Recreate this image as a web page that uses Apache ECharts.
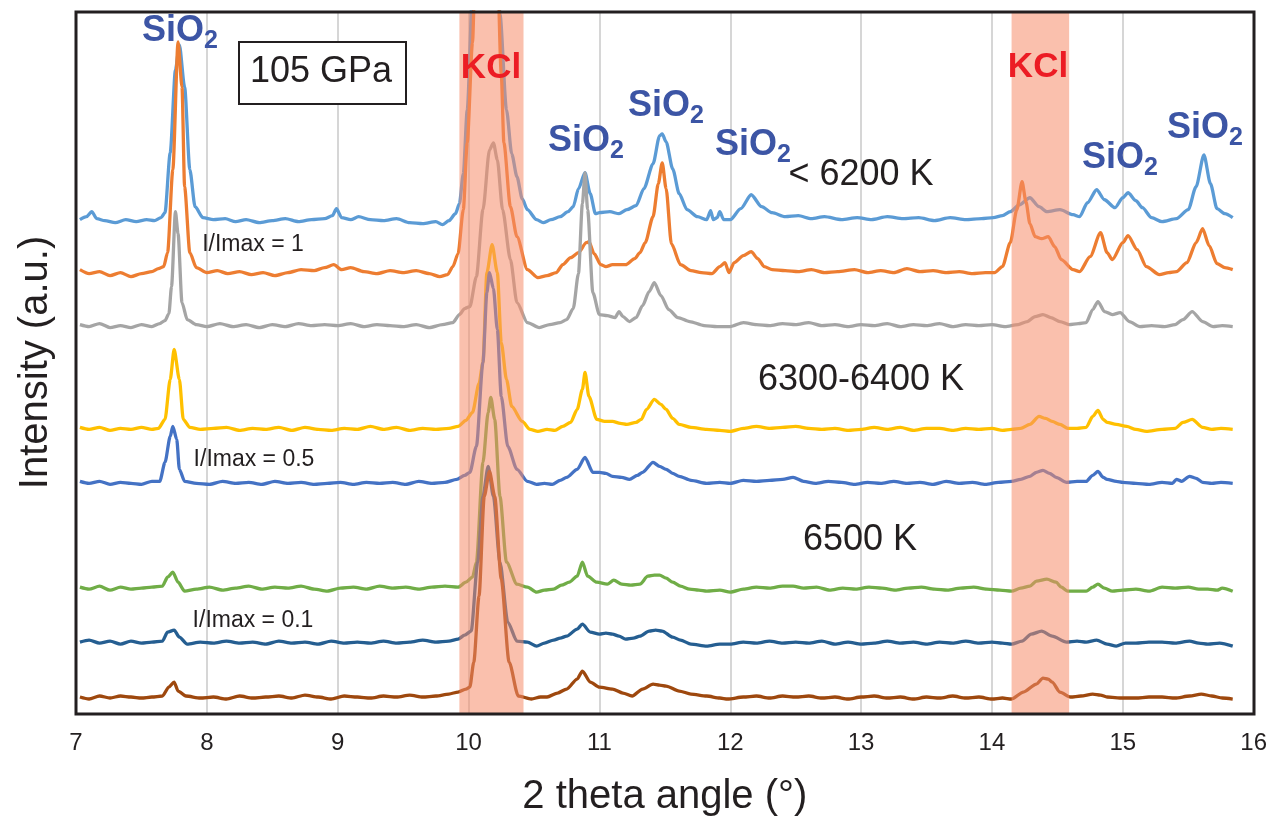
<!DOCTYPE html>
<html>
<head>
<meta charset="utf-8">
<title>105 GPa XRD</title>
<script src="https://cdn.jsdelivr.net/npm/echarts@6/dist/echarts.min.js"></script>
<style>
  html, body { margin: 0; padding: 0; background: #fff; }
  #chart { width: 1270px; height: 822px; }
</style>
</head>
<body>
<div id="chart"></div>
<script>
// 2 theta (deg), intensity with stacking offset (a.u.)
const lightBlue = [[7.03,494],[7.08,497],[7.12,502],[7.16,495],[7.22,493],[7.3,491],[7.38,494],[7.46,492],[7.54,494],[7.6,493],[7.65,496],[7.68,501],[7.72,561],[7.76,644],[7.79,669],[7.83,627],[7.87,544],[7.91,507],[7.97,496],[8.05,494],[8.14,495],[8.22,492],[8.3,494],[8.4,491],[8.5,493],[8.6,495],[8.7,492],[8.8,494],[8.9,495],[8.96,498],[8.99,505],[9.03,496],[9.1,494],[9.16,497],[9.25,494],[9.35,493],[9.45,495],[9.55,491],[9.65,490],[9.75,492],[9.8,489],[9.85,493],[9.9,500],[9.93,510],[9.96,540],[9.99,604],[10.03,720],[10.08,900],[10.15,1050],[10.2,850],[10.24,700],[10.29,604],[10.33,560],[10.37,537],[10.41,515],[10.45,504],[10.52,494],[10.57,491],[10.63,494],[10.7,497],[10.76,502],[10.8,507],[10.84,525],[10.89,541],[10.93,520],[10.97,500],[11.0,501],[11.08,502],[11.15,500],[11.21,504],[11.28,508],[11.34,525],[11.41,550],[11.46,578],[11.48,580],[11.51,572],[11.56,545],[11.61,520],[11.67,504],[11.75,497],[11.82,494],[11.85,503],[11.87,494],[11.9,496],[11.92,502],[11.95,494],[12.0,494],[12.08,505],[12.16,519],[12.24,507],[12.32,501],[12.42,497],[12.52,498],[12.62,495],[12.72,497],[12.85,494],[12.97,496],[13.08,494],[13.2,497],[13.32,495],[13.44,496],[13.56,493],[13.68,496],[13.8,494],[13.92,495],[14.01,496],[14.08,498],[14.14,502],[14.21,509],[14.29,516],[14.36,507],[14.42,502],[14.52,504],[14.62,499],[14.67,497],[14.73,511],[14.8,524],[14.86,514],[14.94,506],[15.0,516],[15.04,521],[15.1,513],[15.15,506],[15.22,496],[15.3,492],[15.41,495],[15.5,504],[15.56,527],[15.62,559],[15.67,530],[15.72,505],[15.78,500],[15.84,496]];

const orange = [[7.03,444],[7.1,440],[7.18,442],[7.26,438],[7.34,441],[7.42,437],[7.5,440],[7.58,442],[7.63,445],[7.67,447],[7.7,461],[7.74,544],[7.78,672],[7.81,627],[7.83,527],[7.87,461],[7.92,446],[8.0,441],[8.08,443],[8.16,440],[8.25,442],[8.34,439],[8.43,441],[8.52,438],[8.62,441],[8.72,444],[8.82,443],[8.9,446],[8.97,449],[9.03,444],[9.1,446],[9.2,442],[9.3,440],[9.4,443],[9.5,441],[9.6,443],[9.7,440],[9.78,437],[9.84,439],[9.88,447],[9.92,460],[9.96,504],[9.99,571],[10.03,671],[10.06,800],[10.14,1150],[10.21,800],[10.25,640],[10.27,571],[10.32,507],[10.37,477],[10.45,444],[10.53,436],[10.6,438],[10.67,441],[10.72,449],[10.78,456],[10.84,461],[10.9,471],[10.92,472],[10.96,460],[11.01,449],[11.05,447],[11.1,449],[11.2,449],[11.27,455],[11.31,461],[11.35,471],[11.41,497],[11.45,530],[11.48,551],[11.51,525],[11.55,470],[11.62,449],[11.7,443],[11.78,441],[11.86,440],[11.92,447],[11.96,451],[11.99,441],[12.03,451],[12.1,458],[12.16,462],[12.21,455],[12.26,447],[12.32,444],[12.42,443],[12.52,442],[12.62,444],[12.72,441],[12.82,442],[12.95,444],[13.05,441],[13.15,443],[13.25,441],[13.35,445],[13.45,442],[13.55,443],[13.65,441],[13.75,442],[13.85,440],[13.95,441],[14.02,441],[14.08,447],[14.14,471],[14.19,504],[14.23,532],[14.26,512],[14.29,490],[14.33,477],[14.38,475],[14.43,477],[14.48,467],[14.53,454],[14.62,444],[14.67,442],[14.75,457],[14.83,481],[14.88,461],[14.92,454],[15.0,471],[15.04,478],[15.11,464],[15.18,447],[15.28,439],[15.35,441],[15.41,442],[15.49,451],[15.56,471],[15.61,485],[15.66,468],[15.72,450],[15.78,446],[15.84,444]];

const gray = [[7.03,389],[7.1,387],[7.18,390],[7.26,386],[7.34,388],[7.42,386],[7.5,389],[7.58,387],[7.64,390],[7.68,393],[7.71,400],[7.73,427],[7.76,502],[7.78,480],[7.81,411],[7.85,394],[7.92,389],[8.0,387],[8.1,390],[8.2,387],[8.3,389],[8.4,386],[8.5,389],[8.6,387],[8.7,390],[8.8,388],[8.9,389],[9.0,388],[9.1,390],[9.2,387],[9.3,389],[9.4,388],[9.5,387],[9.6,389],[9.7,386],[9.8,389],[9.88,391],[9.93,399],[9.97,405],[10.01,407],[10.06,437],[10.11,504],[10.16,564],[10.19,571],[10.22,554],[10.26,504],[10.32,454],[10.37,411],[10.45,391],[10.54,386],[10.62,389],[10.7,391],[10.75,394],[10.8,405],[10.84,440],[10.87,510],[10.89,541],[10.91,504],[10.95,421],[11.0,399],[11.06,398],[11.12,396],[11.15,402],[11.18,397],[11.23,392],[11.28,396],[11.33,408],[11.38,422],[11.42,431],[11.47,418],[11.53,404],[11.6,396],[11.69,392],[11.8,388],[11.9,387],[12.0,387],[12.1,391],[12.2,389],[12.3,388],[12.4,390],[12.5,389],[12.6,391],[12.7,388],[12.8,389],[12.9,387],[13.0,389],[13.1,388],[13.2,390],[13.3,387],[13.4,389],[13.5,388],[13.6,390],[13.7,387],[13.8,389],[13.9,388],[14.0,389],[14.1,387],[14.2,389],[14.27,392],[14.33,397],[14.39,399],[14.45,396],[14.52,392],[14.59,389],[14.66,390],[14.72,391],[14.77,404],[14.81,412],[14.86,402],[14.92,399],[14.98,401],[15.05,392],[15.13,387],[15.22,388],[15.32,387],[15.4,389],[15.46,394],[15.53,402],[15.61,392],[15.69,387],[15.76,388],[15.84,387]];

const yellow = [[7.03,286],[7.1,284],[7.18,286],[7.26,283],[7.34,285],[7.42,284],[7.5,286],[7.58,284],[7.63,285],[7.68,294],[7.72,334],[7.75,364],[7.79,334],[7.82,294],[7.87,286],[7.95,284],[8.05,285],[8.15,286],[8.25,283],[8.35,285],[8.45,284],[8.55,286],[8.65,283],[8.75,286],[8.85,284],[8.95,283],[9.05,285],[9.15,284],[9.25,287],[9.35,284],[9.45,286],[9.55,283],[9.65,285],[9.75,284],[9.85,285],[9.92,287],[9.98,293],[10.03,301],[10.08,330],[10.11,351],[10.14,441],[10.18,469],[10.22,441],[10.25,371],[10.29,334],[10.33,307],[10.41,292],[10.47,284],[10.53,282],[10.6,284],[10.66,283],[10.72,287],[10.78,291],[10.83,304],[10.87,324],[10.89,341],[10.92,317],[10.98,294],[11.04,292],[11.1,292],[11.16,290],[11.21,289],[11.28,291],[11.32,294],[11.36,304],[11.42,314],[11.47,309],[11.51,304],[11.56,295],[11.61,289],[11.7,286],[11.82,284],[11.92,283],[12.0,282],[12.1,285],[12.2,287],[12.3,285],[12.4,286],[12.5,287],[12.6,285],[12.7,284],[12.8,285],[12.9,283],[13.0,284],[13.1,286],[13.2,284],[13.3,286],[13.4,283],[13.5,285],[13.6,285],[13.7,283],[13.8,285],[13.9,284],[14.0,285],[14.08,283],[14.15,284],[14.22,285],[14.29,289],[14.36,297],[14.41,295],[14.46,292],[14.52,289],[14.58,285],[14.65,285],[14.72,286],[14.77,297],[14.81,303],[14.85,294],[14.88,291],[14.95,289],[15.03,287],[15.1,284],[15.18,282],[15.3,284],[15.4,285],[15.46,291],[15.53,294],[15.61,286],[15.68,284],[15.75,285],[15.84,284]];

const blue = [[7.03,232],[7.1,230],[7.18,232],[7.26,229],[7.34,231],[7.42,230],[7.5,229],[7.58,232],[7.64,232],[7.68,251],[7.72,277],[7.74,287],[7.77,274],[7.79,244],[7.83,232],[7.92,230],[8.02,229],[8.12,232],[8.22,230],[8.32,231],[8.42,229],[8.52,232],[8.62,230],[8.72,231],[8.82,229],[8.92,230],[9.02,231],[9.12,229],[9.22,231],[9.32,230],[9.42,231],[9.52,229],[9.62,232],[9.72,230],[9.82,231],[9.91,234],[9.97,238],[10.01,241],[10.06,267],[10.11,351],[10.14,421],[10.16,441],[10.19,425],[10.22,384],[10.25,317],[10.3,267],[10.37,244],[10.45,232],[10.52,229],[10.58,230],[10.64,229],[10.7,233],[10.75,236],[10.83,244],[10.89,256],[10.95,241],[11.0,241],[11.05,240],[11.1,237],[11.17,236],[11.23,234],[11.29,238],[11.33,241],[11.41,251],[11.46,247],[11.51,244],[11.56,240],[11.61,237],[11.7,233],[11.82,230],[11.92,231],[12.0,230],[12.1,233],[12.2,232],[12.3,233],[12.4,234],[12.48,236],[12.56,232],[12.65,230],[12.75,232],[12.85,231],[12.95,229],[13.05,231],[13.15,230],[13.25,232],[13.35,230],[13.45,231],[13.55,229],[13.65,232],[13.75,230],[13.85,231],[13.95,229],[14.05,231],[14.15,232],[14.22,234],[14.29,237],[14.34,241],[14.39,243],[14.44,240],[14.49,236],[14.57,231],[14.65,232],[14.72,232],[14.77,238],[14.81,242],[14.85,236],[14.88,234],[14.95,232],[15.0,231],[15.1,230],[15.2,229],[15.3,231],[15.38,230],[15.41,234],[15.45,232],[15.51,237],[15.56,235],[15.61,231],[15.68,230],[15.75,231],[15.84,230]];

const green = [[7.03,126],[7.1,124],[7.18,127],[7.26,123],[7.34,126],[7.42,124],[7.5,125],[7.58,126],[7.66,127],[7.7,136],[7.74,141],[7.78,131],[7.83,122],[7.92,124],[8.02,126],[8.12,123],[8.22,125],[8.32,127],[8.42,124],[8.52,126],[8.62,125],[8.72,127],[8.82,124],[8.92,122],[9.02,125],[9.12,126],[9.22,124],[9.32,127],[9.42,125],[9.52,126],[9.62,124],[9.72,126],[9.82,127],[9.92,126],[9.98,131],[10.03,136],[10.06,151],[10.11,251],[10.15,301],[10.17,316],[10.2,294],[10.24,217],[10.29,151],[10.37,129],[10.45,126],[10.52,121],[10.58,123],[10.65,124],[10.71,128],[10.77,131],[10.83,137],[10.87,151],[10.91,137],[10.98,131],[11.06,129],[11.11,133],[11.17,129],[11.24,128],[11.31,129],[11.37,137],[11.42,138],[11.46,138],[11.51,135],[11.56,131],[11.62,127],[11.69,124],[11.76,123],[11.82,122],[11.92,123],[12.0,121],[12.1,124],[12.2,126],[12.3,125],[12.4,127],[12.48,127],[12.56,125],[12.66,126],[12.76,123],[12.86,125],[12.96,124],[13.06,126],[13.16,125],[13.26,123],[13.36,125],[13.46,126],[13.56,124],[13.66,123],[13.76,125],[13.86,126],[13.96,124],[14.06,123],[14.15,122],[14.22,125],[14.29,127],[14.34,132],[14.42,134],[14.49,131],[14.53,126],[14.58,122],[14.65,122],[14.72,122],[14.77,126],[14.81,129],[14.86,125],[14.92,122],[15.0,123],[15.1,124],[15.2,122],[15.3,126],[15.4,125],[15.5,126],[15.58,124],[15.65,124],[15.72,123],[15.76,125],[15.84,122]];

const darkBlue = [[7.03,71],[7.1,73],[7.18,70],[7.26,72],[7.34,69],[7.42,72],[7.5,70],[7.58,71],[7.66,72],[7.7,81],[7.75,83],[7.79,76],[7.85,69],[7.95,71],[8.05,70],[8.15,72],[8.25,70],[8.35,71],[8.45,69],[8.55,72],[8.65,70],[8.75,71],[8.85,69],[8.95,72],[9.05,70],[9.15,71],[9.25,70],[9.35,72],[9.45,70],[9.55,71],[9.65,73],[9.75,71],[9.85,72],[9.92,74],[9.97,78],[10.02,82],[10.07,151],[10.11,217],[10.15,247],[10.19,217],[10.24,151],[10.3,91],[10.37,72],[10.45,71],[10.52,67],[10.58,70],[10.65,73],[10.7,75],[10.75,77],[10.83,84],[10.87,89],[10.93,81],[11.0,79],[11.05,80],[11.1,79],[11.15,77],[11.2,74],[11.26,75],[11.31,77],[11.38,82],[11.43,83],[11.48,82],[11.56,76],[11.62,73],[11.7,69],[11.82,67],[11.92,69],[12.0,69],[12.1,71],[12.2,70],[12.3,72],[12.4,70],[12.5,71],[12.6,70],[12.7,72],[12.8,69],[12.9,71],[13.0,69],[13.1,70],[13.2,72],[13.3,70],[13.4,71],[13.5,69],[13.6,71],[13.7,70],[13.8,72],[13.9,70],[14.0,71],[14.08,70],[14.15,69],[14.23,72],[14.3,79],[14.38,82],[14.46,77],[14.57,71],[14.65,72],[14.72,71],[14.8,73],[14.88,69],[14.95,67],[15.02,70],[15.1,70],[15.2,71],[15.3,71],[15.4,70],[15.51,72],[15.58,70],[15.65,69],[15.74,70],[15.84,67]];

const brown = [[7.03,16],[7.1,14],[7.18,17],[7.26,15],[7.34,17],[7.42,16],[7.5,15],[7.58,16],[7.66,17],[7.71,26],[7.75,31],[7.78,22],[7.84,17],[7.95,15],[8.05,16],[8.15,14],[8.25,17],[8.35,15],[8.45,16],[8.55,17],[8.65,15],[8.75,18],[8.85,16],[8.95,14],[9.05,17],[9.15,16],[9.25,15],[9.35,17],[9.45,16],[9.55,18],[9.65,16],[9.75,17],[9.85,19],[9.92,21],[9.98,24],[10.01,26],[10.04,51],[10.08,117],[10.12,217],[10.16,242],[10.2,217],[10.25,134],[10.31,51],[10.38,17],[10.48,14],[10.55,16],[10.6,16],[10.68,20],[10.75,24],[10.83,34],[10.87,42],[10.93,31],[11.0,26],[11.1,24],[11.18,20],[11.25,17],[11.33,24],[11.41,29],[11.46,28],[11.51,27],[11.61,22],[11.7,19],[11.82,17],[11.92,15],[11.98,14],[12.1,16],[12.2,17],[12.3,15],[12.4,17],[12.5,16],[12.6,17],[12.7,15],[12.8,16],[12.9,14],[13.0,16],[13.1,17],[13.2,15],[13.3,16],[13.4,14],[13.5,16],[13.6,15],[13.7,17],[13.8,15],[13.9,16],[14.0,14],[14.08,15],[14.15,14],[14.24,21],[14.34,29],[14.39,35],[14.43,34],[14.46,31],[14.52,21],[14.6,16],[14.68,17],[14.77,19],[14.83,18],[14.88,16],[15.0,15],[15.1,15],[15.2,16],[15.3,16],[15.4,15],[15.51,17],[15.6,19],[15.68,17],[15.76,15],[15.84,14]];

const traces = [
  { name: '< 6200 K a', data: lightBlue, color: '#5B9BD5' },
  { name: '< 6200 K b', data: orange, color: '#ED7D31' },
  { name: '< 6200 K c', data: gray, color: '#A5A5A5' },
  { name: '6300-6400 K a', data: yellow, color: '#FFC000' },
  { name: '6300-6400 K b', data: blue, color: '#4472C4' },
  { name: '6500 K a', data: green, color: '#70AD47' },
  { name: '6500 K b', data: darkBlue, color: '#255E91' },
  { name: '6500 K c', data: brown, color: '#9E480E' }
];

// KCl bands (2 theta range)
const kclBands = [[9.93, 10.42], [14.15, 14.59]];

const textColor = '#231F20';
const sioColor = '#3C55A5';
const kclColor = '#EC1C24';

function sio2(left, cy) {
  return {
    type: 'group',
    z: 30,
    children: [
      { type: 'text', x: left, y: cy, z: 30, style: { text: 'SiO', fill: sioColor, fontSize: 36, fontWeight: 'bold', fontFamily: 'Liberation Sans', textVerticalAlign: 'middle' } },
      { type: 'text', x: left + 62, y: cy + 10, z: 30, style: { text: '2', fill: sioColor, fontSize: 25, fontWeight: 'bold', fontFamily: 'Liberation Sans', textVerticalAlign: 'middle' } }
    ]
  };
}

function label(text, cx, cy, size, weight, color) {
  return {
    type: 'text', x: cx, y: cy, z: 30,
    style: { text: text, fill: color || textColor, fontSize: size, fontWeight: weight || 'normal', fontFamily: 'Liberation Sans', textAlign: 'center', textVerticalAlign: 'middle' }
  };
}

const chart = echarts.init(document.getElementById('chart'));

const series = traces.map(function (t, i) {
  return {
    name: t.name,
    type: 'line',
    data: t.data,
    showSymbol: false,
    smooth: 0.25,
    smoothMonotone: 'x',
    z: 2 + i * 0.01,
    lineStyle: { color: t.color, width: 3.3 },
    itemStyle: { color: t.color }
  };
});

series.push({
  type: 'custom',
  name: 'KCl',
  z: 10,
  silent: true,
  data: kclBands,
  encode: { x: [0, 1] },
  renderItem: function (params, api) {
    const p0 = api.coord([api.value(0), 0]);
    const p1 = api.coord([api.value(1), 0]);
    const cs = params.coordSys;
    return {
      type: 'rect',
      shape: { x: p0[0], y: cs.y, width: p1[0] - p0[0], height: cs.height },
      style: { fill: 'rgb(245,140,105)', opacity: 0.55 }
    };
  }
});

chart.setOption({
  backgroundColor: '#fff',
  animation: false,
  grid: {
    left: 76, right: 16, top: 12, bottom: 108,
    show: false
  },
  xAxis: {
    type: 'value', min: 7, max: 16, interval: 1,
    name: '2 theta angle (°)', nameLocation: 'middle', nameGap: 64,
    nameTextStyle: { fontSize: 40, color: textColor, fontFamily: 'Liberation Sans' },
    axisLine: { show: false }, axisTick: { show: false },
    axisLabel: { fontSize: 24, color: textColor, margin: 18, fontFamily: 'Liberation Sans' },
    splitLine: { show: true, lineStyle: { color: '#C8C8C8', width: 1.5 } }
  },
  yAxis: {
    type: 'value', min: 0, max: 702,
    name: 'Intensity (a.u.)', nameLocation: 'middle', nameGap: 20,
    nameTextStyle: { fontSize: 40, color: textColor, fontFamily: 'Liberation Sans' },
    axisLine: { show: false }, axisTick: { show: false }, axisLabel: { show: false },
    splitLine: { show: false }
  },
  graphic: [
    // plot frame
    { type: 'rect', z: 40, silent: true, shape: { x: 76, y: 12, width: 1178, height: 702 }, style: { fill: 'none', stroke: textColor, lineWidth: 3 } },
    { type: 'rect', z: 30, shape: { x: 239, y: 42, width: 167, height: 62 }, style: { fill: '#fff', stroke: textColor, lineWidth: 2 } },
    label('105 GPa', 321, 72, 36),
    label('KCl', 491, 68, 35, 'bold', kclColor),
    label('KCl', 1038, 67, 35, 'bold', kclColor),
    sio2(142, 31),
    sio2(548, 141),
    sio2(628, 106),
    sio2(715, 145),
    sio2(1082, 158),
    sio2(1167, 128),
    label('< 6200 K', 861, 175, 36),
    label('6300-6400 K', 861, 380, 36),
    label('6500 K', 860, 540, 36),
    label('I/Imax = 1', 253, 245, 23),
    label('I/Imax = 0.5', 254, 460, 23),
    label('I/Imax = 0.1', 253, 621, 23)
  ],
  series: series
});
</script>
</body>
</html>
